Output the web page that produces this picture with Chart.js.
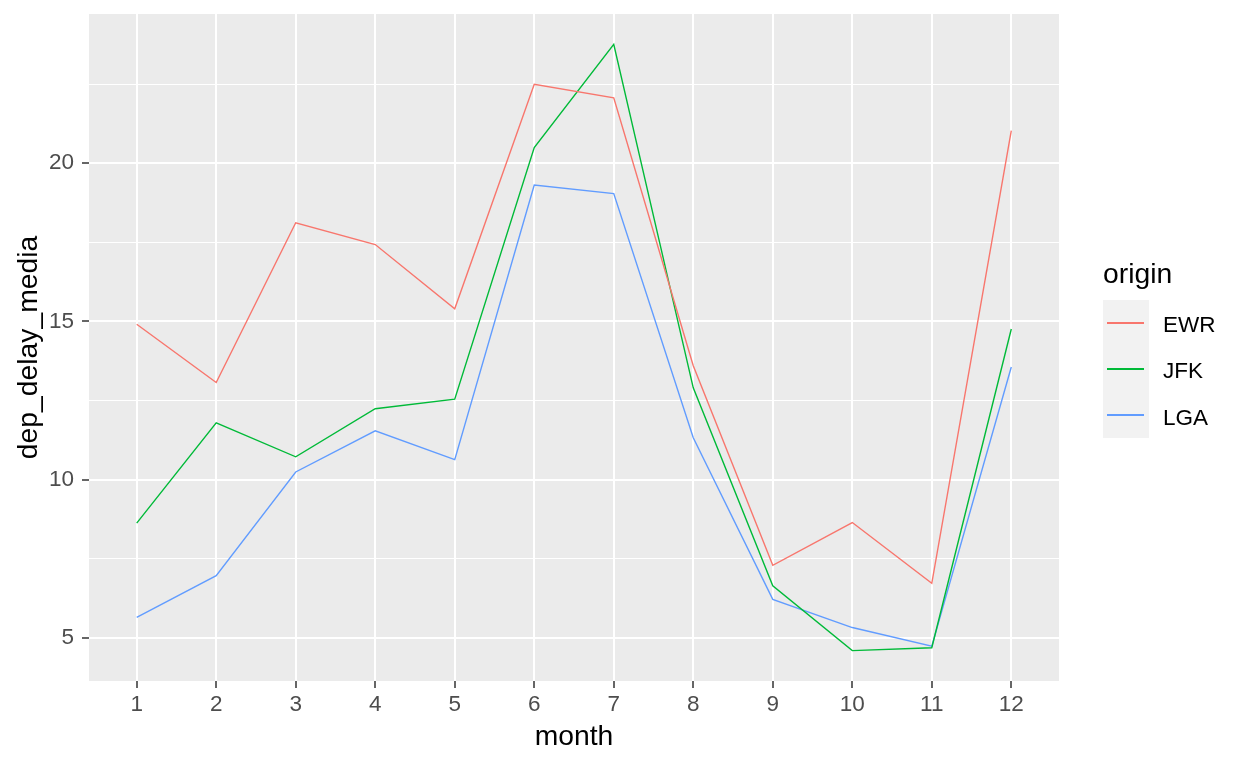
<!DOCTYPE html>
<html>
<head>
<meta charset="utf-8">
<script src="https://cdn.jsdelivr.net/npm/chart.js@4"></script>
<style>
  html,body{margin:0;padding:0;background:#fff;}
  #wrap{position:relative;width:1248px;height:768px;font-family:"Liberation Sans",Arial,sans-serif;}
  canvas{position:absolute;left:0;top:0;}
  .lg{position:absolute;color:#000;white-space:nowrap;}
</style>
</head>
<body>
<div id="wrap">
  <canvas id="c" width="1248" height="768"></canvas>
  <div class="lg" style="left:1103px;top:259px;font-size:28.3px;line-height:28px;">origin</div>
  <div style="position:absolute;left:1103px;top:300px;width:46px;height:138px;background:#F2F2F2;"></div>
  <div id="keys"></div>
</div>
<script>
const months = [1,2,3,4,5,6,7,8,9,10,11,12];
const origins = ["EWR","JFK","LGA"];
const ewr = [14.91,13.07,18.12,17.43,15.40,22.50,22.07,13.60,7.29,8.64,6.72,21.03];
const jfk = [8.62,11.79,10.72,12.24,12.54,20.50,23.76,12.90,6.64,4.59,4.68,14.76];
const lga = [5.64,6.96,10.24,11.54,10.63,19.31,19.04,11.32,6.21,5.32,4.73,13.56];
const yTicks = [5,7.5,10,12.5,15,17.5,20,22.5];
const yLabels = [5,10,15,20];
const colors = ["#F8766D","#00BA38","#619CFF"];

const series = [ewr, jfk, lga];

// legend keys
const keys = document.getElementById('keys');
origins.forEach((o,i)=>{
  const cy = 322.7 + i*46;
  const ln = document.createElement('div');
  ln.style.cssText = `position:absolute;left:1107px;top:${cy-1}px;width:37px;height:2px;background:${colors[i]};`;
  keys.appendChild(ln);
  const t = document.createElement('div');
  t.className='lg';
  const baseline = 333 + i*46.2;
  t.style.cssText = `position:absolute;left:1163px;top:${baseline-18.8}px;font-size:22.5px;line-height:22px;`;
  t.textContent = o;
  keys.appendChild(t);
});

const panelBg = {
  id:'panelBg',
  beforeDraw(chart){
    const a = chart.chartArea, ctx = chart.ctx;
    ctx.save();
    ctx.fillStyle = '#EBEBEB';
    ctx.fillRect(a.left, a.top, a.right-a.left, a.bottom-a.top);
    ctx.restore();
  }
};

const font = {family:"'Liberation Sans', Arial, sans-serif"};

new Chart(document.getElementById('c'), {
  type:'line',
  data:{
    datasets: origins.map((o,i)=>({
      label:o,
      data: months.map((m,j)=>({x:m, y:series[i][j]})),
      borderColor: colors[i],
      backgroundColor: colors[i],
      borderWidth: 1.4,
      pointRadius: 0,
      tension: 0,
      fill:false
    }))
  },
  options:{
    responsive:false,
    devicePixelRatio:1,
    animation:false,
    layout:{padding:{left:0,right:189,top:14,bottom:0}},
    plugins:{legend:{display:false},tooltip:{enabled:false}},
    scales:{
      x:{
        type:'linear',
        min:0.4, max:12.6,
        afterBuildTicks(s){ s.ticks = months.map(v=>({value:v})); },
        afterFit(s){ s.height = 87; s.paddingLeft = 0; s.paddingRight = 0; s.paddingTop = 0; s.paddingBottom = 0; },
        border:{display:false},
        grid:{color:'#FFFFFF', lineWidth:2, tickColor:'#333333', tickLength:7, tickWidth:1.5, drawOnChartArea:true},
        ticks:{color:'#4D4D4D', padding:3.5, font:{...font, size:22.5}, maxRotation:0, autoSkip:false,
               callback:(v)=>String(v)},
        title:{display:true, text:'month', color:'#000', font:{...font, size:28.3}, padding:{top:0,bottom:14}}
      },
      y:{
        type:'linear',
        min:3.63, max:24.72,
        afterBuildTicks(s){ s.ticks = yTicks.map(v=>({value:v})); },
        afterFit(s){ s.width = 89; s.paddingTop = 0; s.paddingBottom = 0; s.paddingLeft = 0; s.paddingRight = 0; },
        border:{display:false},
        grid:{
          color:'#FFFFFF',
          lineWidth:(c)=> yLabels.includes(c.tick && c.tick.value) ? 2 : 1,
          tickColor:(c)=> yLabels.includes(c.tick && c.tick.value) ? '#333333' : 'rgba(0,0,0,0)',
          tickLength:7, tickWidth:1.5
        },
        ticks:{color:'#4D4D4D', padding:8, font:{...font, size:22.5}, autoSkip:false,
               callback:(v)=> yLabels.includes(v) ? String(v) : ''},
        title:{display:true, text:'dep_delay_media', color:'#000', font:{...font, size:28.3}, padding:{top:12,bottom:0}}
      }
    }
  },
  plugins:[panelBg]
});
</script>
</body>
</html>
